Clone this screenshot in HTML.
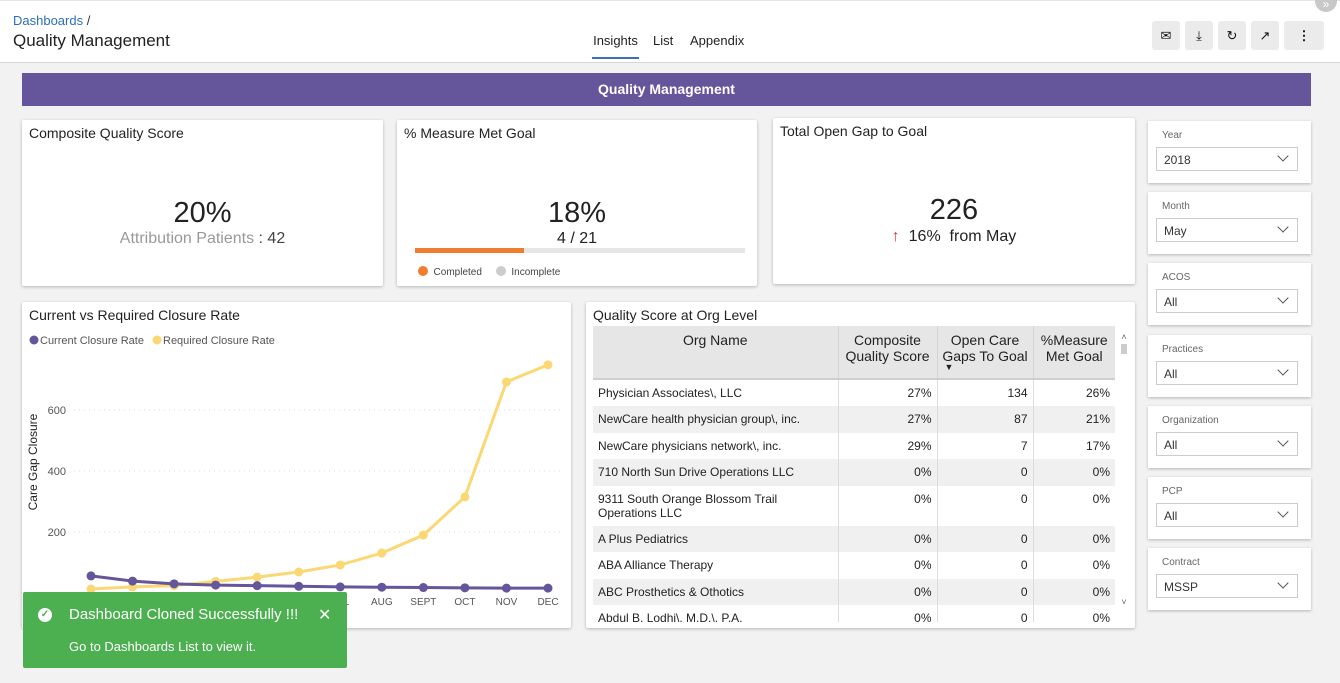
<!DOCTYPE html>
<html><head><meta charset="utf-8">
<style>
*{box-sizing:border-box;margin:0;padding:0}
body{width:1340px;height:683px;overflow:hidden;background:#f2f2f2;font-family:"Liberation Sans",sans-serif;color:#222;position:relative}
.abs{position:absolute}
.card{position:absolute;background:#fff;box-shadow:0 1px 3px rgba(0,0,0,.25);border-radius:2px}
.ttl{position:absolute;left:7px;top:5px;font-size:14px;color:#222}
.btn{position:absolute;top:21px;width:28px;height:29px;background:#ebebeb;border-radius:3px;font-size:13px;text-align:center;line-height:29px;color:#111}
.filt{position:absolute;left:1148px;width:163px;height:62px;background:#fff;box-shadow:0 1px 3px rgba(0,0,0,.25)}
.filt .l{position:absolute;left:14px;top:9px;font-size:10px;color:#666}
.filt .s{position:absolute;left:8px;top:26px;width:142px;height:24px;border:1px solid #ccc;font-size:12px;padding:5px 7px;color:#333}
.filt .s:after{content:"";position:absolute;right:10px;top:4px;width:7px;height:7px;border-right:1.3px solid #555;border-bottom:1.3px solid #555;transform:rotate(45deg)}
table{border-collapse:collapse;font-size:12px;table-layout:fixed}
td{padding:6px 5px;vertical-align:top;height:26.5px}
tr.g td{background:#f0f0f0}
td.n{text-align:right;border-left:1px solid #ddd}
th{background:#e6e6e6;font-weight:normal;font-size:14px;vertical-align:top;padding:6px 3px;border-left:1px solid #d4d4d4;border-bottom:2px solid #cfcfcf;height:53px}
</style></head><body>
<div class="abs" style="left:0;top:0;width:1340px;height:63px;background:#fff;border-bottom:1px solid #d6d6d6;border-top:1px solid #e6e6e6"></div>
<div class="abs" style="left:13px;top:13px;font-size:13px;color:#2a6ebb">Dashboards <span style="color:#333">/</span></div>
<div class="abs" style="left:13px;top:31px;font-size:17px;color:#222">Quality Management</div>
<div class="abs" style="left:592px;top:33px;font-size:13px;padding-bottom:9px;border-bottom:2px solid #3b6fb6;width:47px;text-align:center">Insights</div>
<div class="abs" style="left:653px;top:33px;font-size:13px">List</div>
<div class="abs" style="left:690px;top:33px;font-size:13px">Appendix</div>
<div class="btn" style="left:1152px">✉</div>
<div class="btn" style="left:1185px">⤓</div>
<div class="btn" style="left:1218px">↻</div>
<div class="btn" style="left:1251px">↗</div>
<div class="btn" style="left:1284px;width:40px;font-weight:bold">⋮</div>
<div class="abs" style="left:1315px;top:-10px;width:22px;height:22px;border-radius:11px;background:#c8c8c8;color:#fff;font-size:12px;text-align:center;line-height:28px">»</div>

<div class="abs" style="left:22px;top:73px;width:1289px;height:33px;background:#65559a;color:#fff;font-weight:bold;font-size:14px;text-align:center;line-height:33px">Quality Management</div>

<div class="card" style="left:22px;top:120px;width:361px;height:166px">
<div class="ttl">Composite Quality Score</div>
<div class="abs" style="left:0;width:361px;top:77px;text-align:center;font-size:29px">20%</div>
<div class="abs" style="left:0;width:361px;top:110px;text-align:center;font-size:16px;color:#999">Attribution Patients <span style="color:#444">: 42</span></div>
</div>
<div class="card" style="left:397px;top:120px;width:360px;height:166px">
<div class="ttl">% Measure Met Goal</div>
<div class="abs" style="left:0;width:360px;top:77px;text-align:center;font-size:29px">18%</div>
<div class="abs" style="left:0;width:360px;top:110px;text-align:center;font-size:16px">4 / 21</div>
<div class="abs" style="left:18px;top:128px;width:330px;height:5px;background:#e6e6e6"><div style="width:33%;height:5px;background:#f07c2f"></div></div>
<div class="abs" style="left:21px;top:146px;font-size:10px;color:#444"><span style="display:inline-block;width:10px;height:10px;border-radius:5px;background:#f07c2f;vertical-align:-1px"></span>&nbsp; Completed &nbsp; &nbsp; <span style="display:inline-block;width:10px;height:10px;border-radius:5px;background:#ccc;vertical-align:-1px"></span>&nbsp; Incomplete</div>
</div>
<div class="card" style="left:773px;top:118px;width:362px;height:166px">
<div class="ttl">Total Open Gap to Goal</div>
<div class="abs" style="left:0;width:362px;top:76px;text-align:center;font-size:29px">226</div>
<div class="abs" style="left:0;width:362px;top:110px;text-align:center;font-size:16px"><span style="color:#d33">↑</span>&nbsp; 16% &nbsp;from May</div>
</div>

<div class="filt" style="top:121px"><div class="l">Year</div><div class="s">2018</div></div>
<div class="filt" style="top:192px"><div class="l">Month</div><div class="s">May</div></div>
<div class="filt" style="top:263px"><div class="l">ACOS</div><div class="s">All</div></div>
<div class="filt" style="top:335px"><div class="l">Practices</div><div class="s">All</div></div>
<div class="filt" style="top:406px"><div class="l">Organization</div><div class="s">All</div></div>
<div class="filt" style="top:477px"><div class="l">PCP</div><div class="s">All</div></div>
<div class="filt" style="top:548px"><div class="l">Contract</div><div class="s">MSSP</div></div>

<div class="card" style="left:22px;top:302px;width:549px;height:326px">
<div class="ttl">Current vs Required Closure Rate</div>
<svg class="abs" style="left:0;top:0" width="549" height="326" id="chart"></svg>
</div>

<div class="card" style="left:586px;top:302px;width:549px;height:326px;overflow:hidden">
<div class="ttl">Quality Score at Org Level</div>
<div class="abs" style="left:7px;top:24px;width:522px;height:296px;overflow:hidden">
<table style="width:522px">
<colgroup><col style="width:245px"><col style="width:99px"><col style="width:96px"><col style="width:82px"></colgroup>
<tr><th style="border-left:none">Org Name</th><th>Composite Quality Score</th><th>Open Care Gaps To Goal<br><span style="font-size:9px;display:block;text-align:left;padding-left:4px;line-height:6px">▼</span></th><th>%Measure Met Goal</th></tr>
<tr><td>Physician Associates\, LLC</td><td class="n">27%</td><td class="n">134</td><td class="n">26%</td></tr>
<tr class="g"><td>NewCare health physician group\, inc.</td><td class="n">27%</td><td class="n">87</td><td class="n">21%</td></tr>
<tr><td>NewCare physicians network\, inc.</td><td class="n">29%</td><td class="n">7</td><td class="n">17%</td></tr>
<tr class="g"><td>710 North Sun Drive Operations LLC</td><td class="n">0%</td><td class="n">0</td><td class="n">0%</td></tr>
<tr><td style="height:40px;line-height:14px;padding-top:6px">9311 South Orange Blossom Trail Operations LLC</td><td class="n">0%</td><td class="n">0</td><td class="n">0%</td></tr>
<tr class="g"><td>A Plus Pediatrics</td><td class="n">0%</td><td class="n">0</td><td class="n">0%</td></tr>
<tr><td>ABA Alliance Therapy</td><td class="n">0%</td><td class="n">0</td><td class="n">0%</td></tr>
<tr class="g"><td>ABC Prosthetics &amp; Othotics</td><td class="n">0%</td><td class="n">0</td><td class="n">0%</td></tr>
<tr><td>Abdul B. Lodhi\, M.D.\, P.A.</td><td class="n">0%</td><td class="n">0</td><td class="n">0%</td></tr>
</table></div>
<div class="abs" style="left:533px;top:30px;width:10px;height:275px;font-size:9px;color:#666;text-align:center">˄<div style="width:6px;height:10px;background:#ccc;margin:2px auto"></div><div style="position:absolute;bottom:0;width:10px">˅</div></div>
</div>

<div class="abs" style="left:23px;top:592px;width:324px;height:76px;background:#4caf50;color:#fff;border-radius:2px">
<div class="abs" style="left:15px;top:16px;width:14px;height:14px;border-radius:7px;background:#fff;color:#4caf50;font-size:10px;text-align:center;line-height:14px;font-weight:bold">✓</div>
<div class="abs" style="left:46px;top:14px;font-size:15px">Dashboard Cloned Successfully !!!</div>
<div class="abs" style="left:295px;top:13px;font-size:16px">✕</div>
<div class="abs" style="left:46px;top:47px;font-size:13px">Go to Dashboards List to view it.</div>
</div>

<script>
const months=["JAN","FEB","MAR","APR","MAY","JUN","JUL","AUG","SEPT","OCT","NOV","DEC"];
const currentRate=[56,39,30,26,24,22,20,19,18,17,16,16];
const requiredRate=[13,20,24,38,52,69,92,131,190,315,692,748];
const yTicks=[200,400,600];
const svg=document.getElementById('chart');
const NS='http://www.w3.org/2000/svg';
const x0=69,x1=526,yBase=291,pxPer=61/200;
const xs=i=>x0+i*(x1-x0)/(months.length-1);
const ys=v=>yBase-v*pxPer;
function mk(t,a){const e=document.createElementNS(NS,t);for(const k in a)e.setAttribute(k,a[k]);svg.appendChild(e);return e;}
yTicks.forEach(v=>{
 const g=mk('line',{x1:52,x2:540,y1:ys(v),y2:ys(v),stroke:'#ddd','stroke-dasharray':'1,4'});
 
 
 const t=mk('text',{x:44,y:ys(v)+4,'text-anchor':'end','font-size':'11','fill':'#555','font-family':'Liberation Sans'});
 t.textContent=v;
 
 
});
months.forEach((m,i)=>{
 const t=mk('text',{x:xs(i),y:303,'text-anchor':'middle','font-size':'10','fill':'#555','font-family':'Liberation Sans'});
 t.textContent=m;
 
 
});
const yt=mk('text',{x:0,y:0,transform:'translate(15,160) rotate(-90)','text-anchor':'middle','font-size':'12','fill':'#222','font-family':'Liberation Sans'});
yt.textContent='Care Gap Closure';


function series(vals,col,name){
 const p=mk('polyline',{points:vals.map((v,i)=>xs(i)+','+ys(v)).join(' '),fill:'none',stroke:col,'stroke-width':3});
 
 
 vals.forEach((v,i)=>{const c=mk('circle',{cx:xs(i),cy:ys(v),r:4.5,fill:col});
 
 });
}
series(requiredRate,'#fbd873','required-rate');
series(currentRate,'#65559a','current-rate');
[[12,'#65559a','Current Closure Rate'],[135,'#fbd873','Required Closure Rate']].forEach(([x,c,l])=>{
 const d=mk('circle',{cx:x,cy:38,r:4.5,fill:c});
 
 
 const t=mk('text',{x:x+6,y:42,'font-size':'11','fill':'#555','font-family':'Liberation Sans'});
 t.textContent=l;
 
 
});
</script>
</body></html>
